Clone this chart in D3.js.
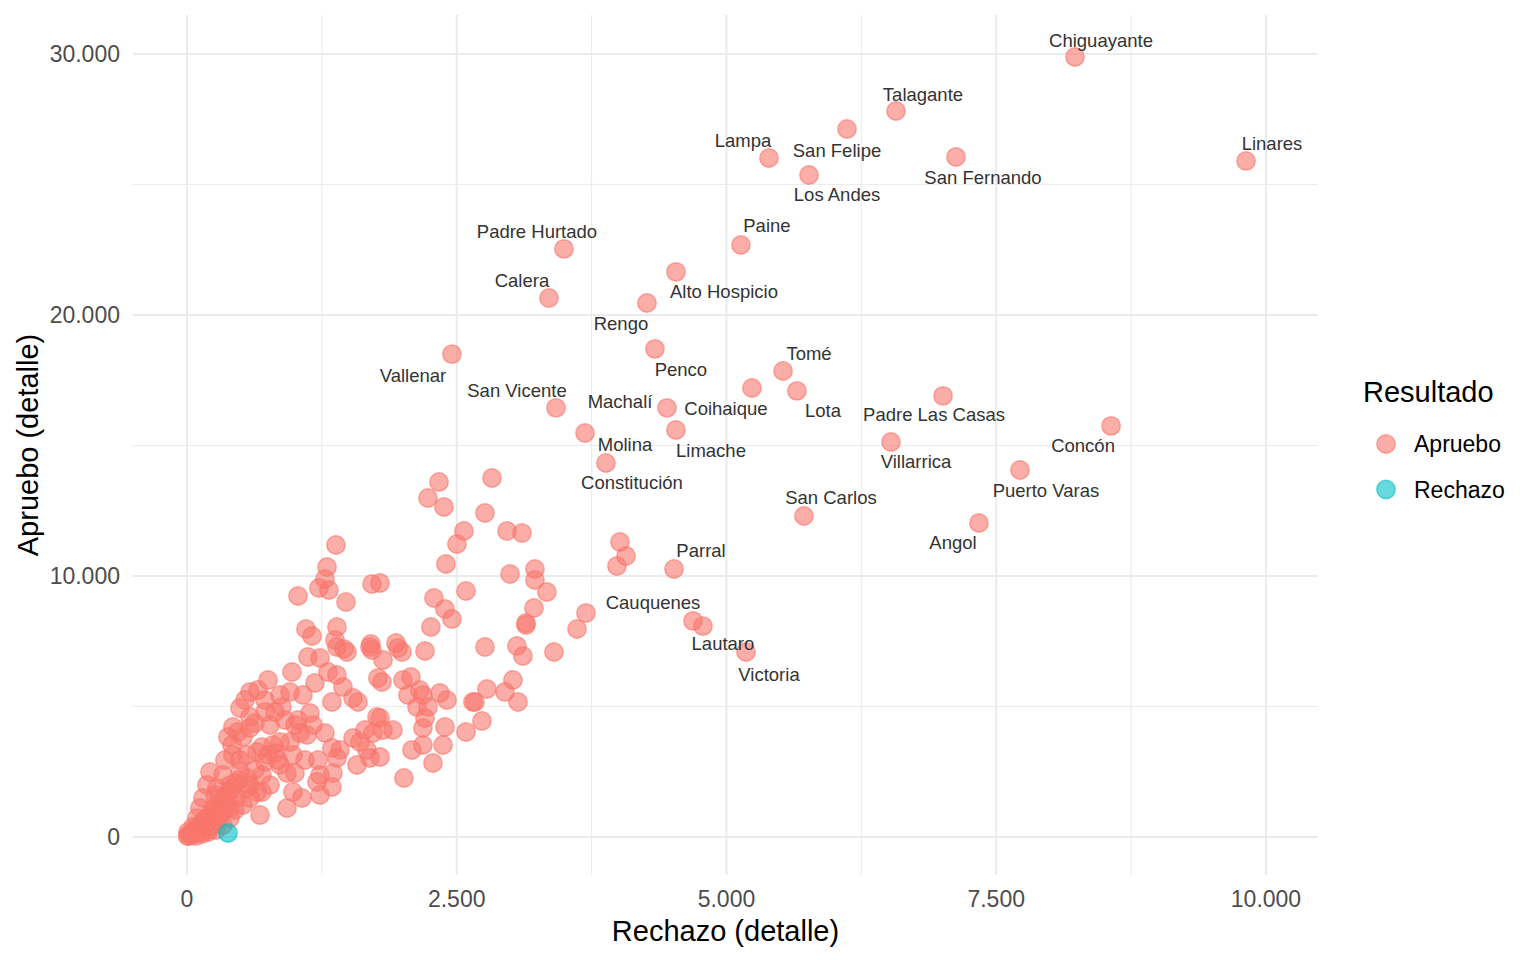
<!DOCTYPE html>
<html lang="es">
<head>
    <meta charset="UTF-8">
    <title>Apruebo vs Rechazo</title>
    <script src="https://d3js.org/d3.v7.min.js"></script>
    <style>
        body { margin: 0; background: #fff; }
        svg { display: block; font-family: "Liberation Sans", Arial, sans-serif; }
        .grid-major { stroke: #ebebeb; stroke-width: 2; }
        .grid-minor { stroke: #ebebeb; stroke-width: 1; }
        .tick-label { fill: #4d4d4d; font-size: 23px; }
        .axis-title { fill: #000; font-size: 29px; }
        .point-label { fill: #333; font-size: 18.5px; }
    </style>
</head>
<body>
<div id="chart"></div>
<script>
    // labelled communes (Rechazo votes, Apruebo votes)
    const labelNames = ["Chiguayante", "Talagante", "San Felipe", "Lampa", "Los Andes", "San Fernando",
        "Linares", "Padre Hurtado", "Paine", "Alto Hospicio", "Rengo", "Calera", "Vallenar", "Penco",
        "Tomé", "Coihaique", "Lota", "Padre Las Casas", "San Vicente", "Machalí", "Limache", "Molina",
        "Constitución", "Villarrica", "Concón", "Puerto Varas", "San Carlos", "Angol", "Parral",
        "Cauquenes", "Lautaro", "Victoria"];
    const labelRechazo = [8230, 6571, 6117, 5394, 5765, 7127, 9815, 3494, 5134, 4532, 4263, 3355, 2456, 4337,
        5524, 5236, 5653, 7007, 3420, 4449, 4532, 3689, 3883, 6525, 8564, 7720, 5718, 7340, 4514,
        4690, 4782, 5181];
    const labelApruebo = [29880, 27810, 27120, 26010, 25360, 26050, 25900, 22530, 22680, 21650, 20460, 20650, 18500, 18700,
        17850, 17200, 17090, 16900, 16440, 16440, 15590, 15480, 14330, 15130, 15750, 14060, 12300, 12030, 10270,
        8280, 8080, 7090];

    // other communes where Apruebo won
    const otherRechazo = [2336, 2234, 2382, 2827, 2762, 2567, 2502, 2400, 2966, 3105, 2994, 3225, 3225, 3336, 3216,
        3142, 3142, 3698, 3615, 2586, 2289, 2391, 2456, 2261, 1937, 1993, 2206, 2762, 3058, 3114, 3401, 1789,
        4013, 4069, 3985, 1381, 1298, 1279, 1223, 1316, 1029, 1474, 1715, 1103, 1159, 1390, 1372, 1390, 1455,
        1705, 1696, 1121, 1233, 1817, 1807, 2002, 2076, 2048, 2159, 2187, 2132, 2234, 2345, 2410, 2206, 2187,
        2391, 1789, 1817, 1909, 2085, 2187, 2373, 2280, 2011, 1789, 2669, 2650, 2780, 2947, 3021, 3068, 2734,
        2586, 1956, 1483, 1715, 973, 1307, 1390, 1770, 1186, 1446, 1344, 1539, 1585, 1075, 955, 862, 880, 723,
        584, 538, 491, 584, 630, 473, 380, 426, 519, 584, 417, 1140, 1029, 1001, 1112, 1047, 1168, 1279, 955,
        797, 695, 862, 649, 751, 426, 556, 723, 816, 982, 1094, 1214, 1344, 1418, 1390, 1539, 1603, 1668, 1650,
        1724, 1761, 1576, 1696, 862, 927, 1001, 1233, 1353, 1205, 1344, 1233, 982, 1066, 927, 677, 769, 695,
        213, 334, 491, 556, 185, 278, 399, 556, 649, 148, 306, 463, 584, 120, 241, 399, 519, 93, 185, 306, 399,
        56, 148, 241, 334, 9, 74, 120, 185, 5, 19, 28, 46, 65, 83, 111, 130, 148, 167, 204, 222, 260, 287, 315,
        343, 361, 389, 417, 454, 482, 278, 324, 361, 232, 269, 195, 139, 83, 352, 491, 630, 769, 816, 723, 908,
        658, 751, 260, 445, 584, 695, 843];
    const otherApruebo = [13600, 12987, 12642, 13753, 12412, 11723, 11225, 10459, 11723, 11646, 10076, 10267, 9846,
        9386, 8773, 8198, 8122, 8581, 7968, 9424, 9156, 8735, 8352, 8045, 7432, 7087, 7126, 7279, 7317, 6934,
        7087, 9731, 11301, 10765, 10382, 11187, 10344, 9884, 9539, 9463, 9233, 9003, 9692, 7968, 7700, 8045,
        7547, 7279, 7202, 7394, 7279, 6896, 6857, 6781, 5938, 6015, 6130, 5440, 5632, 5440, 4980, 4980, 5517,
        5248, 4559, 4176, 4214, 4559, 4099, 4099, 3333, 3525, 3525, 2835, 2260, 3065, 5172, 5172, 5670, 5555,
        6015, 5172, 4444, 4023, 7241, 7087, 7164, 6321, 6321, 6206, 6091, 5900, 5747, 5172, 5325, 5172, 5440,
        5555, 5440, 4980, 5248, 5555, 5248, 4942, 4597, 4367, 4023, 3831, 4214, 3831, 4176, 3525, 4750, 4482,
        4291, 3908, 3984, 4291, 3984, 3639, 3525, 3448, 3639, 3256, 3141, 3141, 3141, 2873, 3218, 3141, 2950,
        2950, 3410, 3333, 3026, 3793, 3639, 3333, 4099, 3984, 4597, 2758, 3026, 2758, 2452, 2452, 2375, 2452,
        2107, 1916, 1609, 1724, 1494, 1111, 843, 1992, 1724, 2490, 2375, 2490, 2260, 1992, 1877, 1992, 1877,
        1724, 1494, 1494, 1494, 1494, 1111, 1111, 1111, 1226, 728, 728, 843, 728, 383, 383, 460, 460, 192, 153,
        192, 268, 38, 38, 115, 77, 230, 268, 421, 498, 575, 651, 728, 843, 1034, 1188, 1303, 1417, 1609, 1724,
        1839, 2069, 2184, 651, 958, 1111, 421, 268, 192, 115, 38, 2950, 2950, 2567, 4291, 4789, 4789, 4482,
        5632, 6015, 1609, 1034, 1992, 2375, 2950];

    // communes where Rechazo won
    const rechazoWinRechazo = [380];
    const rechazoWinApruebo = [153];

    const xTicks = [0, 2500, 5000, 7500, 10000];
    const xMinor = [1250, 3750, 6250, 8750];
    const yTicks = [0, 10000, 20000, 30000];
    const yMinor = [5000, 15000, 25000];
    const resultados = ["Apruebo", "Rechazo"];
    const colores = ["#F8766D", "#00BFC4"];

    // ggrepel-ish label offsets in px (dx, dy)
    const labelNudge = [[26, -17], [27, -17], [-10, 21], [-26, -18], [28, 19], [27, 20],
        [26, -17], [-27, -17], [26, -19], [48, 20], [-26, 21], [-27, -17], [-39, 21], [26, 21],
        [26, -18], [-26, 20], [26, 20], [-9, 19], [-39, -17], [-47, -6], [35, 20], [40, 12],
        [26, 20], [25, 19], [-28, 20], [26, 21], [27, -18], [-26, 20], [27, -18],
        [-40, -18], [20, 17], [23, 23]];

    const W = 1536, H = 960;
    const panel = { left: 133, right: 1318, top: 15, bottom: 875 };

    const svg = d3.select("#chart").append("svg")
        .attr("width", W)
        .attr("height", H);
    svg.append("rect").attr("width", W).attr("height", H).attr("fill", "#fff");

    const x = d3.scaleLinear().domain([-500, 10482]).range([panel.left, panel.right]);
    const y = d3.scaleLinear().domain([-1455, 31490]).range([panel.bottom, panel.top]);

    const loc = d3.formatLocale({ decimal: ",", thousands: ".", grouping: [3], currency: ["$", ""] });
    const fmt = loc.format(",d");

    // grid
    const grid = svg.append("g");
    grid.selectAll(".gxm").data(xMinor).join("line")
        .attr("class", "grid-minor")
        .attr("x1", d => x(d)).attr("x2", d => x(d))
        .attr("y1", panel.top).attr("y2", panel.bottom);
    grid.selectAll(".gym").data(yMinor).join("line")
        .attr("class", "grid-minor")
        .attr("y1", d => y(d)).attr("y2", d => y(d))
        .attr("x1", panel.left).attr("x2", panel.right);
    grid.selectAll(".gx").data(xTicks).join("line")
        .attr("class", "grid-major")
        .attr("x1", d => x(d)).attr("x2", d => x(d))
        .attr("y1", panel.top).attr("y2", panel.bottom);
    grid.selectAll(".gy").data(yTicks).join("line")
        .attr("class", "grid-major")
        .attr("y1", d => y(d)).attr("y2", d => y(d))
        .attr("x1", panel.left).attr("x2", panel.right);

    // tick labels
    svg.append("g").selectAll("text").data(xTicks).join("text")
        .attr("class", "tick-label")
        .attr("x", d => x(d))
        .attr("y", 907)
        .attr("text-anchor", "middle")
        .text(d => fmt(d));
    svg.append("g").selectAll("text").data(yTicks).join("text")
        .attr("class", "tick-label")
        .attr("x", 120)
        .attr("y", d => y(d) + 8)
        .attr("text-anchor", "end")
        .text(d => fmt(d));

    // axis titles
    svg.append("text").attr("class", "axis-title")
        .attr("x", (panel.left + panel.right) / 2).attr("y", 941)
        .attr("text-anchor", "middle")
        .text("Rechazo (detalle)");
    svg.append("text").attr("class", "axis-title")
        .attr("transform", `translate(38,${(panel.top + panel.bottom) / 2}) rotate(-90)`)
        .attr("text-anchor", "middle")
        .text("Apruebo (detalle)");

    // points
    const pts = [];
    labelNames.forEach((n, i) => pts.push({ r: labelRechazo[i], a: labelApruebo[i], res: 0 }));
    otherRechazo.forEach((v, i) => pts.push({ r: v, a: otherApruebo[i], res: 0 }));
    rechazoWinRechazo.forEach((v, i) => pts.push({ r: v, a: rechazoWinApruebo[i], res: 1 }));

    svg.append("g").selectAll("circle").data(pts).join("circle")
        .attr("cx", d => x(d.r))
        .attr("cy", d => y(d.a))
        .attr("r", 9.2)
        .attr("fill", d => colores[d.res])
        .attr("fill-opacity", 0.6)
        .attr("stroke", d => colores[d.res])
        .attr("stroke-opacity", 0.6)
        .attr("stroke-width", 1.5);

    // labels
    svg.append("g").selectAll("text").data(labelNames).join("text")
        .attr("class", "point-label")
        .attr("x", (d, i) => x(labelRechazo[i]) + labelNudge[i][0])
        .attr("y", (d, i) => y(labelApruebo[i]) + labelNudge[i][1])
        .attr("text-anchor", "middle")
        .attr("dominant-baseline", "central")
        .text(d => d);

    // legend
    const leg = svg.append("g");
    leg.append("text").attr("x", 1363).attr("y", 402)
        .attr("font-size", 29).attr("fill", "#000").text("Resultado");
    const items = leg.selectAll("g.item").data(resultados).join("g")
        .attr("class", "item")
        .attr("transform", (d, i) => `translate(0,${444 + i * 45.5})`);
    items.append("circle")
        .attr("cx", 1386).attr("cy", 0).attr("r", 9.2)
        .attr("fill", (d, i) => colores[i]).attr("fill-opacity", 0.6)
        .attr("stroke", (d, i) => colores[i]).attr("stroke-opacity", 0.6)
        .attr("stroke-width", 1.5);
    items.append("text")
        .attr("x", 1414).attr("y", 8)
        .attr("font-size", 23).attr("fill", "#000")
        .text(d => d);
</script>
</body>
</html>
